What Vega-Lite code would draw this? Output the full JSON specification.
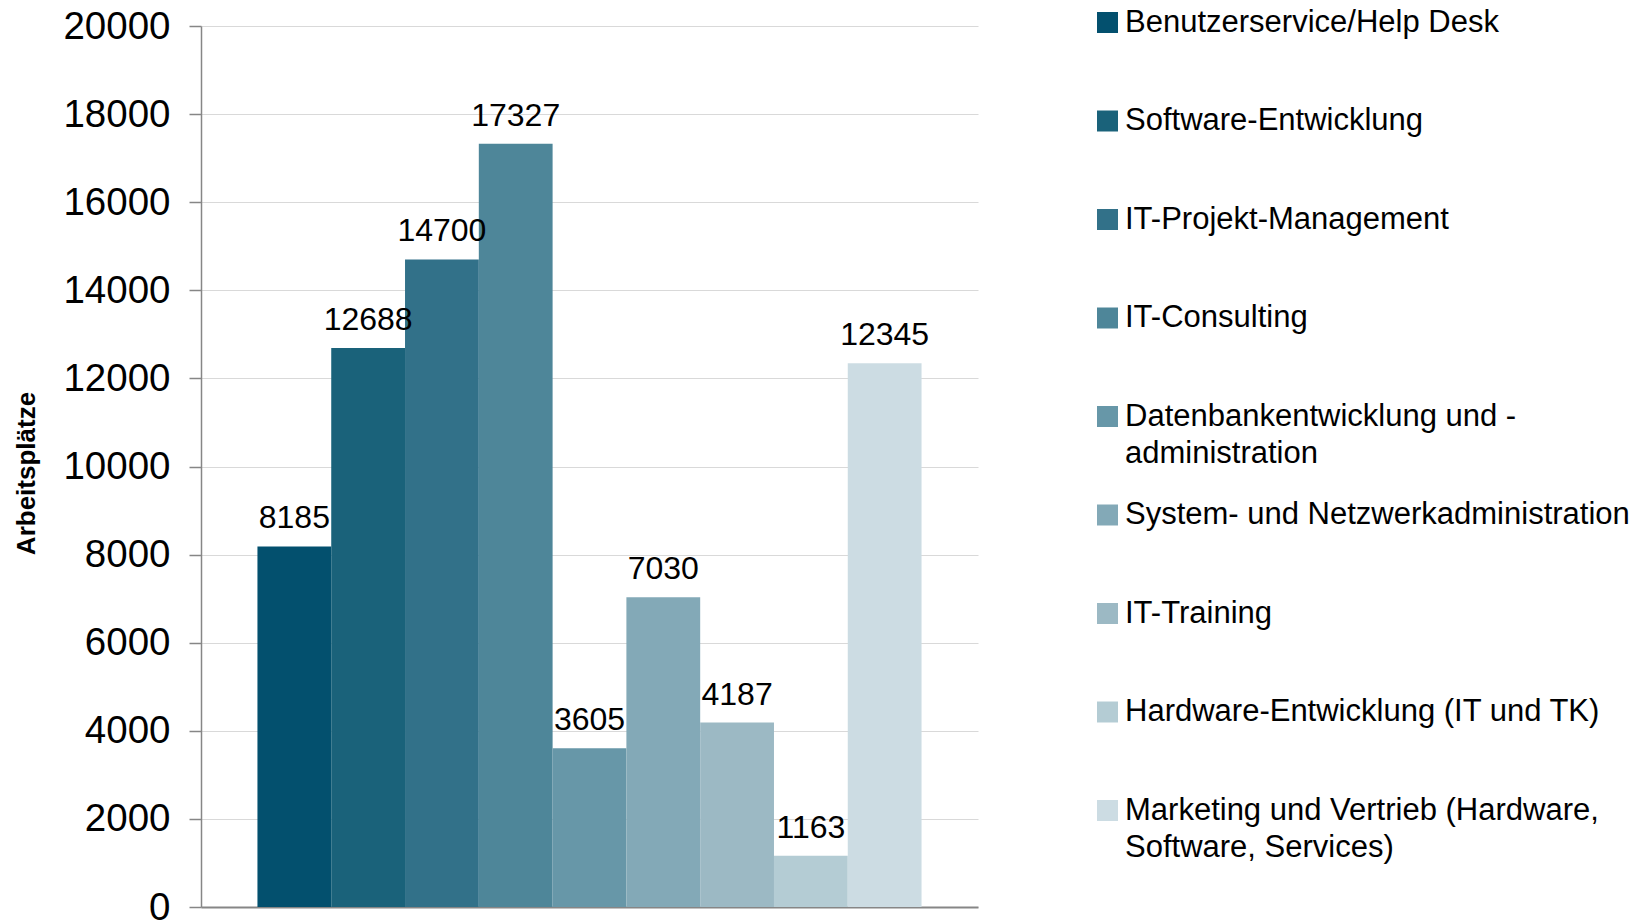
{
  "$schema": "https://vega.github.io/schema/vega-lite/v6.json",
  "autosize": "none",
  "padding": {"left": 201, "top": 26, "right": 661, "bottom": 15},
  "width": 777,
  "height": 881,
  "background": "white",
  "config": {
    "view": {"stroke": null},
    "font": "Liberation Sans"
  },
  "data": {
    "values": [
      {"bereich": "Benutzerservice/Help Desk", "arbeitsplaetze": 8185},
      {"bereich": "Software-Entwicklung", "arbeitsplaetze": 12688},
      {"bereich": "IT-Projekt-Management", "arbeitsplaetze": 14700},
      {"bereich": "IT-Consulting", "arbeitsplaetze": 17327},
      {"bereich": "Datenbankentwicklung und -administration", "arbeitsplaetze": 3605},
      {"bereich": "System- und Netzwerkadministration", "arbeitsplaetze": 7030},
      {"bereich": "IT-Training", "arbeitsplaetze": 4187},
      {"bereich": "Hardware-Entwicklung (IT und TK)", "arbeitsplaetze": 1163},
      {"bereich": "Marketing und Vertrieb (Hardware, Software, Services)", "arbeitsplaetze": 12345}
    ]
  },
  "encoding": {
    "x": {
      "field": "bereich",
      "type": "nominal",
      "sort": null,
      "scale": {
        "type": "band",
        "paddingInner": 0,
        "paddingOuter": 0.765,
        "domain": [
          "Benutzerservice/Help Desk",
          "Software-Entwicklung",
          "IT-Projekt-Management",
          "IT-Consulting",
          "Datenbankentwicklung und -administration",
          "System- und Netzwerkadministration",
          "IT-Training",
          "Hardware-Entwicklung (IT und TK)",
          "Marketing und Vertrieb (Hardware, Software, Services)"
        ]
      },
      "axis": {
        "title": null,
        "labels": false,
        "ticks": false,
        "grid": false,
        "domainColor": "#868686",
        "domainWidth": 2
      }
    },
    "y": {
      "field": "arbeitsplaetze",
      "type": "quantitative",
      "scale": {"domain": [0, 20000], "nice": false},
      "axis": {
        "title": "Arbeitsplätze",
        "titleFont": "Liberation Sans",
        "titleFontSize": 26,
        "titleFontWeight": "bold",
        "titleColor": "#000000",
        "titleAngle": 270,
        "titleAlign": "center",
        "titleBaseline": "middle",
        "titleX": -175,
        "titleY": 447,
        "values": [0, 2000, 4000, 6000, 8000, 10000, 12000, 14000, 16000, 18000, 20000],
        "format": "d",
        "labelFont": "Liberation Sans",
        "labelFontSize": 38.5,
        "labelColor": "#000000",
        "labelPadding": 19,
        "tickSize": 12,
        "tickColor": "#868686",
        "tickWidth": 1.5,
        "domainColor": "#868686",
        "domainWidth": 1.5,
        "gridColor": "#D9D9D9",
        "gridWidth": 1.2
      }
    }
  },
  "layer": [
    {
      "mark": {"type": "bar"},
      "encoding": {
        "color": {
          "field": "bereich",
          "type": "nominal",
          "sort": null,
          "scale": {
            "domain": [
              "Benutzerservice/Help Desk",
              "Software-Entwicklung",
              "IT-Projekt-Management",
              "IT-Consulting",
              "Datenbankentwicklung und -administration",
              "System- und Netzwerkadministration",
              "IT-Training",
              "Hardware-Entwicklung (IT und TK)",
              "Marketing und Vertrieb (Hardware, Software, Services)"
            ],
            "range": ["#03506E", "#1A627A", "#327189", "#4E8699", "#6797A8", "#83A9B7", "#9CB9C4", "#B4CCD4", "#CCDCE3"]
          },
          "legend": {
            "orient": "none",
            "legendX": 891,
            "legendY": -19,
            "title": null,
            "padding": 0,
            "symbolType": "square",
            "symbolSize": 441,
            "symbolStrokeWidth": 0,
            "labelFont": "Liberation Sans",
            "labelFontSize": 31,
            "labelColor": "#000000",
            "labelLimit": 800,
            "labelOffset": 2,
            "labelBaseline": "top",
            "gridAlign": "all",
            "rowPadding": 29.5,
            "labelExpr": "datum.label == 'Datenbankentwicklung und -administration' ? ['Datenbankentwicklung und -', 'administration'] : datum.label == 'Marketing und Vertrieb (Hardware, Software, Services)' ? ['Marketing und Vertrieb (Hardware,', 'Software, Services)'] : datum.label",
            "encode": {
              "labels": {"update": {"dy": {"value": -15}, "lineHeight": {"value": 37}}}
            }
          }
        }
      }
    },
    {
      "mark": {"type": "text", "baseline": "alphabetic", "align": "center", "dy": -18, "fontSize": 32, "font": "Liberation Sans", "color": "#000000"},
      "encoding": {
        "text": {"field": "arbeitsplaetze", "type": "quantitative", "format": "d"}
      }
    }
  ]
}
